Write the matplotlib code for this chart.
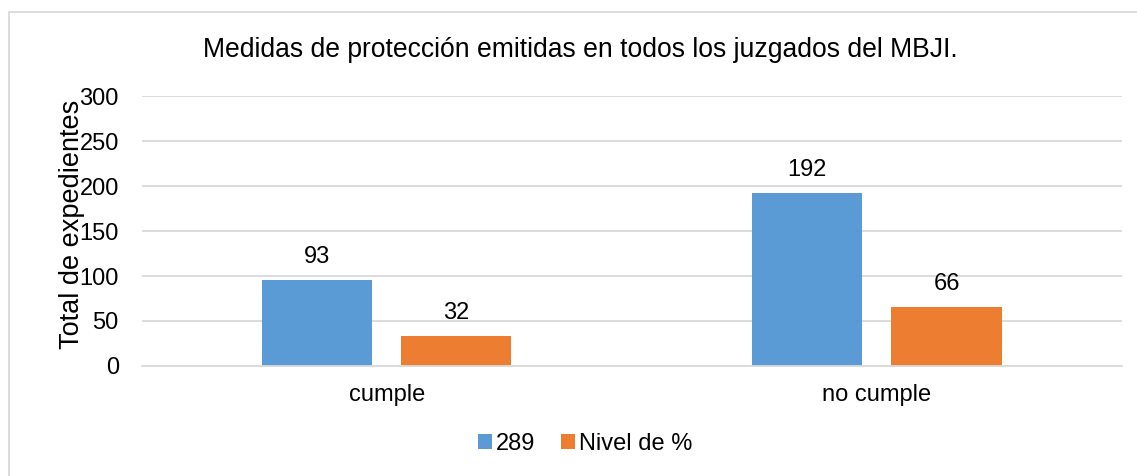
import numpy as np
import matplotlib.pyplot as plt
from matplotlib.patches import Rectangle

plt.rcParams['font.family'] = ['Liberation Sans', 'DejaVu Sans']

categories = ['cumple', 'no cumple']
series_names = ['289', 'Nivel de %']
# bar heights as drawn, and the data labels printed above them
heights_289 = [96, 192]
heights_nivel = [33, 66]
labels_289 = ['93', '192']
labels_nivel = ['32', '66']
yticks = [0, 50, 100, 150, 200, 250, 300]

blue = '#5B9BD5'
orange = '#ED7D31'
grid = '#D9D9D9'

fig = plt.figure(figsize=(11.37, 4.76), dpi=100)
ax = fig.add_axes([0.1246, 0.2311, 0.8622, 0.5672])

x = np.arange(len(categories))
w = 0.2245
off = 0.142
b1 = ax.bar(x - off, heights_289, w, color=blue, label=series_names[0], zorder=2)
b2 = ax.bar(x + off, heights_nivel, w, color=orange, label=series_names[1], zorder=2)

for bars, labs in ((b1, labels_289), (b2, labels_nivel)):
    for r, t in zip(bars, labs):
        ax.annotate(t, (r.get_x() + r.get_width() / 2, r.get_height()),
                    xytext=(0, 12.2), textcoords='offset points',
                    ha='center', va='baseline', fontsize=17, color='black')

ax.set_xlim(-0.5, 1.5)
ax.set_ylim(0, 300)
ax.set_yticks(yticks)
ax.set_xticks(x)
ax.set_xticklabels(categories)
ax.tick_params(axis='y', length=0, pad=16.5, labelsize=17)
ax.tick_params(axis='x', length=0, pad=13, labelsize=17)
ax.grid(axis='y', color=grid, linewidth=1.3, zorder=0)
for s in ['top', 'right', 'left']:
    ax.spines[s].set_visible(False)
ax.spines['bottom'].set_color(grid)
ax.spines['bottom'].set_linewidth(1.3)

# the label sits over the tick numbers, as in the original
ax.set_ylabel('Total de expedientes', fontsize=19.5, va='center')
ax.yaxis.set_label_coords(-0.071, 0.526)

fig.text(580 / 1137, 1 - 57 / 476, 'Medidas de protección emitidas en todos los juzgados del MBJI.',
         ha='center', va='baseline', fontsize=19.1)

fig.legend(loc='center', bbox_to_anchor=(585 / 1137, 1 - 444 / 476), ncol=2, frameon=False,
           fontsize=17, handlelength=0.6, handleheight=0.6, handletextpad=0.15, columnspacing=1.1)

# chart border
fig.patches.append(Rectangle((8.5 / 1137, -0.1), 1.2, (1 - 12 / 476) + 0.1, transform=fig.transFigure,
                             fill=False, edgecolor=grid, linewidth=1.3))

fig.savefig('out.png', dpi=100)
